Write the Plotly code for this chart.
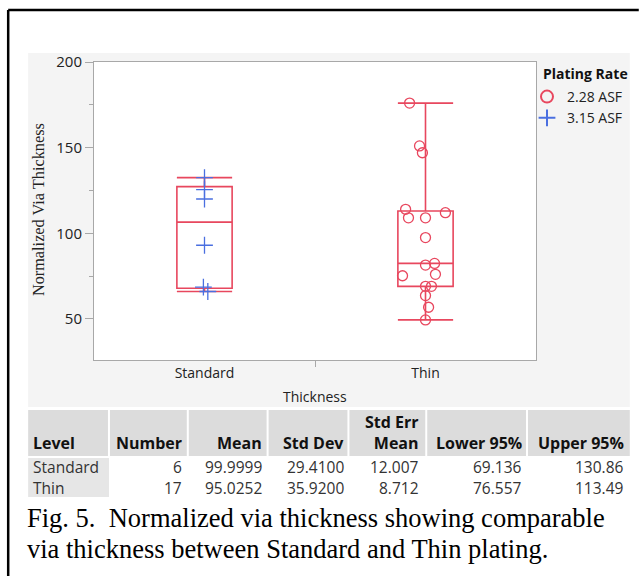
import plotly.graph_objects as go
import numpy as np

# ---------------- data ----------------
categories = ["Standard", "Thin"]
standard_vals = [132.5, 125.5, 120.0, 93.0, 68.5, 66.0]          # 3.15 ASF
standard_jitter = [0.0, 0.0, 0.0, 0.0, -0.005, 0.015]
thin_vals = [176, 151, 147, 114, 112, 109, 109, 97.5, 82.4, 81.4,
             76, 75.2, 69, 69, 63.6, 56.8, 49.4]                 # 2.28 ASF
thin_jitter = [-0.072, -0.027, -0.014, -0.09, 0.09, -0.077, 0.0, 0.0, 0.041, 0.0,
               0.045, -0.104, 0.0, 0.027, 0.0, 0.014, 0.0]
legend_title = "Plating Rate"
legend_names = ["2.28 ASF", "3.15 ASF"]

table_header = ["Level", "Number", "Mean", "Std Dev", "Std Err<br>Mean", "Lower 95%", "Upper 95%"]
table_rows = [
    ["Standard", "6", "99.9999", "29.4100", "12.007", "69.136", "130.86"],
    ["Thin", "17", "95.0252", "35.9200", "8.712", "76.557", "113.49"],
]
caption_lines = ["Fig. 5.\u00a0 Normalized via thickness showing comparable",
                 "via thickness between Standard and Thin plating."]

# ---------------- layout helpers ----------------
W, H = 639, 576
PL, PR, PT, PB = 94, 537, 62, 360
def px(x):
    return (x - PL) / (PR - PL)
def py(y):
    return (PB - y) / (PB - PT)

RED = "#e8475e"
BLUE = "#4a6fe0"
UI = "Open Sans"

def box_stats(v):
    a = np.asarray(v, dtype=float)
    q1, med, q3 = np.percentile(a, [25, 50, 75], method="weibull")
    iqr = q3 - q1
    lo = a[a >= q1 - 1.5 * iqr].min()
    hi = a[a <= q3 + 1.5 * iqr].max()
    return q1, med, q3, lo, hi

fig = go.Figure()
for i, vals in enumerate([standard_vals, thin_vals]):
    q1, med, q3, lo, hi = box_stats(vals)
    fig.add_trace(go.Box(x=[i], q1=[q1], median=[med], q3=[q3], lowerfence=[lo], upperfence=[hi],
                         width=0.25, whiskerwidth=1, boxpoints=False, showlegend=False,
                         fillcolor="rgba(0,0,0,0)", line=dict(color=RED, width=1.6),
                         hoverinfo="skip"))

fig.add_trace(go.Scatter(x=[1 + j for j in thin_jitter], y=thin_vals, mode="markers",
                         name=legend_names[0],
                         marker=dict(symbol="circle-open", size=10, color=RED, line=dict(width=1.3))))
fig.add_trace(go.Scatter(x=[0 + j for j in standard_jitter], y=standard_vals, mode="markers",
                         name=legend_names[1],
                         marker=dict(symbol="cross-thin-open", size=12, color=BLUE, line=dict(width=1.3, color=BLUE))))

shapes = []
# gray panel
shapes.append(dict(type="rect", xref="paper", yref="paper", x0=px(28), x1=px(631), y0=py(407), y1=py(53),
                   fillcolor="#f4f4f4", line=dict(width=0), layer="below"))
# white plot area
shapes.append(dict(type="rect", xref="paper", yref="paper", x0=0, x1=1, y0=0, y1=1,
                   fillcolor="white", line=dict(width=0), layer="below"))

# table
col_edges = [28, 109, 188, 268, 349, 427, 528, 631]
col_right = [None, 182, 262, 345, 420, 523, 625]
hdr_top, hdr_bot = 410, 456
row_centers = [467.5, 487.5]
rows_top, rows_bot = 458, 497
shapes.append(dict(type="rect", xref="paper", yref="paper", x0=px(28), x1=px(631), y0=py(hdr_bot), y1=py(hdr_top),
                   fillcolor="#dcdcdc", line=dict(width=0), layer="below"))
shapes.append(dict(type="rect", xref="paper", yref="paper", x0=px(28), x1=px(109), y0=py(rows_bot), y1=py(rows_top),
                   fillcolor="#e6e6e6", line=dict(width=0), layer="below"))
for e in col_edges[1:-1]:
    shapes.append(dict(type="line", xref="paper", yref="paper", x0=px(e), x1=px(e), y0=py(hdr_bot), y1=py(hdr_top),
                       line=dict(color="white", width=2), layer="below"))
# figure border (left & top)
shapes.append(dict(type="line", xref="paper", yref="paper", x0=px(8), x1=px(8), y0=py(577), y1=py(10),
                   line=dict(color="black", width=2.5)))
shapes.append(dict(type="line", xref="paper", yref="paper", x0=px(8), x1=px(640), y0=py(10), y1=py(10),
                   line=dict(color="black", width=2.5)))

annotations = []
HF = dict(family=UI, size=16, color="#111", weight="bold")
DF = dict(family=UI, size=15.5, color="#333")
for c, txt in enumerate(table_header):
    if c == 0:
        annotations.append(dict(text=txt, x=px(32), y=py(455), xref="paper", yref="paper", xanchor="left",
                                yanchor="bottom", showarrow=False, font=HF, borderpad=0))
    else:
        annotations.append(dict(text=txt, x=px(col_right[c] + 1), y=py(455), xref="paper", yref="paper",
                                xanchor="right", yanchor="bottom", align="right", showarrow=False, font=HF,
                                borderpad=0))
for r, row in enumerate(table_rows):
    for c, txt in enumerate(row):
        if c == 0:
            annotations.append(dict(text=txt, x=px(32), y=py(row_centers[r]), xref="paper", yref="paper",
                                    xanchor="left", yanchor="middle", showarrow=False, font=DF, borderpad=0))
        else:
            annotations.append(dict(text=txt, x=px(col_right[c] + 1), y=py(row_centers[r]), xref="paper", yref="paper",
                                    xanchor="right", yanchor="middle", showarrow=False, font=DF, borderpad=0))
for i, line in enumerate(caption_lines):
    annotations.append(dict(text=line, x=px(26), y=py(518 + 31 * i), xref="paper", yref="paper",
                            xanchor="left", yanchor="middle", showarrow=False, borderpad=0,
                            font=dict(family="Liberation Serif", size=26.5, color="black")))
# axis titles
annotations.append(dict(text="Normalized Via Thickness", x=px(39), y=py(210), xref="paper", yref="paper",
                        textangle=-90, showarrow=False, xanchor="center", yanchor="middle",
                        font=dict(family="Liberation Serif", size=16.3, color="#222")))
annotations.append(dict(text="Thickness", x=px(316), y=py(396), xref="paper", yref="paper",
                        showarrow=False, xanchor="center", yanchor="middle",
                        font=dict(family=UI, size=14, color="#222")))
# legend title
annotations.append(dict(text="<b>" + legend_title + "</b>", x=px(542), y=py(73), xref="paper", yref="paper",
                        showarrow=False, xanchor="left", yanchor="middle",
                        font=dict(family=UI, size=14, color="#111")))

fig.update_layout(
    width=W, height=H, margin=dict(l=PL, r=W - PR, t=PT, b=H - PB),
    paper_bgcolor="white", plot_bgcolor="rgba(0,0,0,0)",
    shapes=shapes, annotations=annotations,
    showlegend=True,
    legend=dict(x=px(527), y=py(81), xanchor="left", yanchor="top", bgcolor="rgba(0,0,0,0)",
                font=dict(family=UI, size=14, color="#222"), itemsizing="constant",
                tracegroupgap=0, itemwidth=30),
    xaxis=dict(range=[-0.5, 1.5], tickvals=[0, 1], ticktext=categories, ticks="",
               showgrid=False, zeroline=False, showline=True, linecolor="#a8a8a8", linewidth=1, mirror=True,
               tickfont=dict(family=UI, size=14, color="#222"),
               minor=dict(tickvals=[0.5], ticks="outside", ticklen=6, tickcolor="#a8a8a8")),
    yaxis=dict(range=[26, 200], tickvals=[50, 100, 150, 200], ticks="outside", ticklen=8, tickcolor="#a8a8a8",
               showgrid=False, zeroline=False, showline=True, linecolor="#a8a8a8", linewidth=1, mirror=True,
               tickfont=dict(family=UI, size=15, color="#222"),
               minor=dict(tickvals=[75, 125, 175], ticks="outside", ticklen=4, tickcolor="#a8a8a8")),
)

fig.write_html("out.html")
